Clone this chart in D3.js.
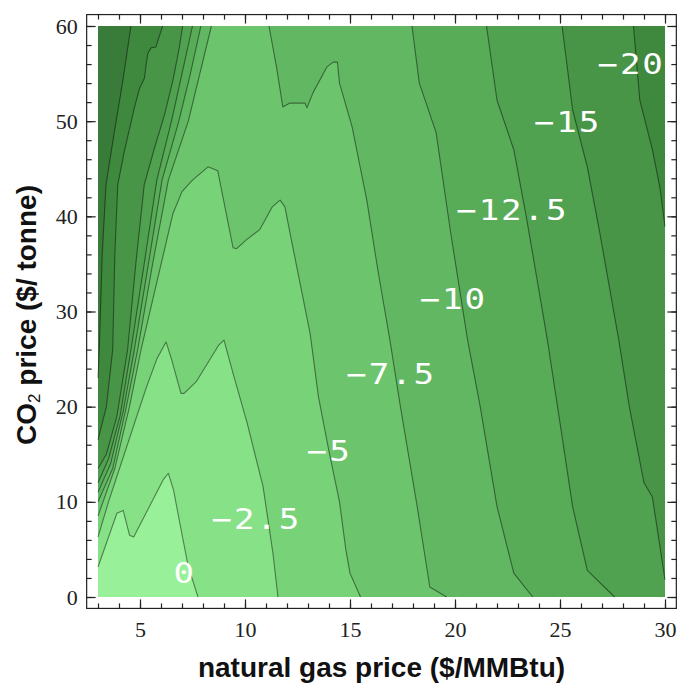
<!DOCTYPE html>
<meta charset="utf-8">
<script src="https://cdn.jsdelivr.net/npm/d3@7"></script>
<style>
  body { margin: 0; background: #fff; }
</style>
<div id="chart"></div>
<script>

// contour levels and the fill of each band, from the lightest (> 0) to the darkest (< -20)
var levels = [0, -2.5, -5, -7.5, -10, -12.5, -15, -17.5, -20];
var bandColors = ["#98F098", "#87E187", "#78D278", "#6CC46C", "#62B862",
                  "#58AC58", "#50A150", "#489548", "#3F893F", "#397C39"];

// contour lines, as [gas price, CO2 price]
// every line is listed so that the lower values lie on its right-hand side
var line0 = [[7.76,0],[7.3,3.2],[7.05,6.0],[6.6,11.2],[6.35,13.0],[6.1,12.3],[4.7,6.3],
             [4.5,6.5],[4.2,9.1],[3.9,8.8],[3,3.15]];
var lineM2_5 = [[11.57,0],[11.33,4.6],[10.86,11.6],[10.1,18.3],[9.43,23.5],[9.0,27.0],[8.76,26.5],
                [7.67,22.6],[7.1,21.4],[6.95,21.4],[6.5,25],[6.24,26.8],[5.8,25],[5.3,22],
                [4.7,18],[4.1,14],[3.5,10],[3,6.3]];
var lineM5 = [[15.5,0],[15.0,2.5],[14.8,5],[14.5,10],[14.0,15.3],[13.5,21],[13.1,27.7],[12.3,36.5],
              [11.9,41.0],[11.67,41.7],[11.3,41.0],[10.7,38.6],[10.1,37.6],[9.6,36.6],[9.43,36.7],
              [8.7,44.8],[8.24,45.2],[7.5,43.8],[7.0,42.6],[6.57,40.3],[5.9,34],[5.05,26],
              [4.5,20],[3.8,13.5],[3,8.5]];
var lineM7_5left = [[8.4,60],[7.85,55],[7.3,50],[6.35,43.8],[5.6,35],[4.89,26],[4.35,20],[3.7,13.5],[3,10]];
var lineM7_5right = [[19.6,0],[18.8,1.05],[18.2,9.5],[17.4,20],[16.9,27],[16.3,34.7],[15.8,41.7],
                     [15.1,49.4],[14.5,54.0],[14.4,56.2],[14.2,56.2],[13.9,55.7],[13.24,53.0],
                     [12.95,51.4],[12.86,51.9],[12.14,51.9],[11.8,51.5],[11.5,55.7],[11.14,60]];
var lineM10left = [[7.9,60],[7.4,55],[6.85,50],[6.05,43.8],[5.4,35],[4.73,26],[4.2,19.5],[3.6,14],[3,11]];
var lineM10right = [[23.7,0],[22.8,2.5],[22.0,9.5],[21.2,20],[20.6,27],[19.8,38.2],[19.1,48.8],
                    [18.3,54],[17.95,60]];
var lineM12_5left = [[7.5,60],[7.0,55],[6.5,50],[5.8,43.8],[5.2,35],[4.57,26],[4.05,19],[3.5,14.5],[3,12]];
var lineM12_5right = [[27.6,0],[26.3,2.8],[25.6,9.5],[25.0,18.3],[24.4,27],[23.4,39.9],[22.8,47],
                      [22.0,52.2],[21.5,60]];
var lineM15left = [[7.03,60],[6.87,57.7],[6.56,54.2],[6.16,50.6],[5.68,47.1],[5.2,43.3],[4.8,35],
                   [4.41,26],[3.9,19],[3.4,15],[3,13.5]];
var lineM15right = [[30,1.8],[29.4,10.5],[29.0,12],[28.3,20],[27.8,27],[26.9,38.2],[26.3,45.2],
                    [25.6,51.2],[25.1,60]];
var lineM17_5left = [[6.08,60],[5.84,58.4],[5.76,57.8],[5.52,57.7],[5.37,57.1],[5.29,55.9],[5.21,54.5],
                     [4.97,53.4],[4.73,51.4],[4.5,49.2],[4.25,46.8],[3.94,43.3],[3.8,36],[3.7,26],
                     [3.4,20],[3,16.5]];
var lineM17_5right = [[30,38.9],[29.76,43],[29.4,47],[28.8,52.2],[28.5,60]];
var lineM20left = [[4.57,60],[4.18,54.2],[3.78,48.9],[3.38,43.3],[3.2,36],[3.06,26],[3,23]];

var contourLines = [
  {level: 0, pts: line0},
  {level: -2.5, pts: lineM2_5},
  {level: -5, pts: lineM5},
  {level: -7.5, pts: lineM7_5left}, {level: -7.5, pts: lineM7_5right},
  {level: -10, pts: lineM10left}, {level: -10, pts: lineM10right},
  {level: -12.5, pts: lineM12_5left}, {level: -12.5, pts: lineM12_5right},
  {level: -15, pts: lineM15left}, {level: -15, pts: lineM15right},
  {level: -17.5, pts: lineM17_5left}, {level: -17.5, pts: lineM17_5right},
  {level: -20, pts: lineM20left}
];

// contour labels as they sit in the picture
var labelText = ["0", "-2.5", "-5", "-7.5", "-10", "-12.5", "-15", "-20"];
var labelGas  = [7.07, 10.48, 13.95, 16.9, 19.86, 22.67, 25.3, 28.33];
var labelCO2  = [2.5, 8.2, 15.3, 23.4, 31.3, 40.7, 49.9, 56.0];

// axes
var gasRange = [3, 30];
var co2Range = [0, 60];
var xTicks = [5, 10, 15, 20, 25, 30];
var yTicks = [0, 10, 20, 30, 40, 50, 60];
var xMinorStep = 1, yMinorStep = 2;

var W = 681, H = 683;
var x = d3.scaleLinear().domain(gasRange).range([98, 665]);
var y = d3.scaleLinear().domain(co2Range).range([597, 26]);
var padX = 0.02 * (gasRange[1] - gasRange[0]);
var padY = 0.02 * (co2Range[1] - co2Range[0]);

var svg = d3.select("#chart").append("svg")
  .attr("width", W)
  .attr("height", H);

// plot boundary, walked clockwise starting at the top-left corner
var X0 = gasRange[0], X1 = gasRange[1], Y0 = co2Range[0], Y1 = co2Range[1];
var corners = [[X0, Y1], [X1, Y1], [X1, Y0], [X0, Y0]];
function perim(p) {
  var eps = 1e-6;
  if (Math.abs(p[1] - Y1) < eps) return (p[0] - X0) / (X1 - X0);
  if (Math.abs(p[0] - X1) < eps) return 1 + (Y1 - p[1]) / (Y1 - Y0);
  if (Math.abs(p[1] - Y0) < eps) return 2 + (X1 - p[0]) / (X1 - X0);
  return 3 + (p[1] - Y0) / (Y1 - Y0);
}
// close a line into the region on its right-hand side
function ring(pts) {
  var tE = perim(pts[pts.length - 1]), tS = perim(pts[0]);
  if (tS <= tE) tS += 4;
  var out = pts.slice();
  for (var k = Math.floor(tE) + 1; k < tS; k++) out.push(corners[k % 4]);
  return out;
}

var line = d3.line()
  .x(function(d) { return x(d[0]); })
  .y(function(d) { return y(d[1]); });

var plot = svg.append("g");

// lightest band fills the whole plot, each level is painted on top
plot.append("path")
  .attr("d", line(ring([[X0, Y1], [X1, Y1]])) + "Z")
  .attr("fill", bandColors[0]);

plot.selectAll(".band")
  .data(contourLines)
  .enter()
  .append("path")
    .attr("class", "band")
    .attr("d", function(d) { return line(ring(d.pts)) + "Z"; })
    .attr("fill", function(d) { return bandColors[levels.indexOf(d.level) + 1]; });

plot.selectAll(".cline")
  .data(contourLines)
  .enter()
  .append("path")
    .attr("class", "cline")
    .attr("d", function(d) { return line(d.pts); })
    .attr("fill", "none")
    .attr("stroke", "#000")
    .attr("stroke-opacity", 0.45)
    .attr("stroke-width", 1.1)
    .attr("stroke-linejoin", "round");

// contour labels (the original font is wide, so stretch the mono face a little)
plot.selectAll(".clabel")
  .data(labelText)
  .enter()
  .append("text")
    .attr("class", "clabel")
    .attr("transform", function(d, i) {
      return "translate(" + x(labelGas[i]) + "," + y(labelCO2[i]) + ") scale(1.22,1)";
    })
    .attr("dx", 1)
    .attr("dy", "0.36em")
    .attr("text-anchor", "middle")
    .attr("font-family", "DejaVu Sans Mono")
    .attr("font-size", "28px")
    .attr("letter-spacing", "1.5px")
    .attr("fill", "#fff")
    .text(function(d) { return d.replace("-", "\u2212"); });

// frame
var fx0 = x(X0 - padX), fx1 = x(X1 + padX), fy0 = y(Y0 - padY), fy1 = y(Y1 + padY);
svg.append("rect")
  .attr("x", fx0)
  .attr("y", fy1)
  .attr("width", fx1 - fx0)
  .attr("height", fy0 - fy1)
  .attr("fill", "none")
  .attr("stroke", "#222")
  .attr("stroke-width", 1.2);

var xMinor = d3.range(X0, X1 + 0.001, xMinorStep);
var yMinor = d3.range(Y0, Y1 + 0.001, yMinorStep);
var majorLen = 9, minorLen = 5;

function styleAxis(g) {
  g.select(".domain").remove();
  g.attr("color", "#222")
    .attr("font-family", "Liberation Serif")
    .attr("font-size", 22);
  g.selectAll("line").attr("stroke-width", 1.2);
}

// bottom
svg.append("g").attr("transform", "translate(0," + fy0 + ")")
  .call(d3.axisBottom(x).tickValues(xMinor).tickSize(-minorLen).tickFormat(""))
  .call(styleAxis);
svg.append("g").attr("transform", "translate(0," + fy0 + ")")
  .call(d3.axisBottom(x).tickValues(xTicks).tickSize(-majorLen).tickPadding(13).tickFormat(d3.format("d")))
  .call(styleAxis);
// top
svg.append("g").attr("transform", "translate(0," + fy1 + ")")
  .call(d3.axisTop(x).tickValues(xMinor).tickSize(-minorLen).tickFormat(""))
  .call(styleAxis);
svg.append("g").attr("transform", "translate(0," + fy1 + ")")
  .call(d3.axisTop(x).tickValues(xTicks).tickSize(-majorLen).tickFormat(""))
  .call(styleAxis);
// left
svg.append("g").attr("transform", "translate(" + fx0 + ",0)")
  .call(d3.axisLeft(y).tickValues(yMinor).tickSize(-minorLen).tickFormat(""))
  .call(styleAxis);
svg.append("g").attr("transform", "translate(" + fx0 + ",0)")
  .call(d3.axisLeft(y).tickValues(yTicks).tickSize(-majorLen).tickPadding(9).tickFormat(d3.format("d")))
  .call(styleAxis);
// right
svg.append("g").attr("transform", "translate(" + fx1 + ",0)")
  .call(d3.axisRight(y).tickValues(yMinor).tickSize(-minorLen).tickFormat(""))
  .call(styleAxis);
svg.append("g").attr("transform", "translate(" + fx1 + ",0)")
  .call(d3.axisRight(y).tickValues(yTicks).tickSize(-majorLen).tickFormat(""))
  .call(styleAxis);

// axis titles
svg.append("text")
  .attr("x", (x(X0) + x(X1)) / 2)
  .attr("y", 677)
  .attr("text-anchor", "middle")
  .attr("font-family", "Liberation Sans")
  .attr("font-weight", "bold")
  .attr("font-size", "28px")
  .attr("fill", "#111")
  .text("natural gas price ($/MMBtu)");

var yTitle = svg.append("text")
  .attr("transform", "translate(36," + 315 + ") rotate(-90)")
  .attr("text-anchor", "middle")
  .attr("font-family", "Liberation Sans")
  .attr("font-weight", "bold")
  .attr("font-size", "28px")
  .attr("fill", "#111");
yTitle.append("tspan").text("CO");
yTitle.append("tspan").attr("font-size", "17px").attr("font-weight", "normal").attr("dy", 4).text("2");
yTitle.append("tspan").attr("dy", -4).text(" price ($/ tonne)");

</script>
